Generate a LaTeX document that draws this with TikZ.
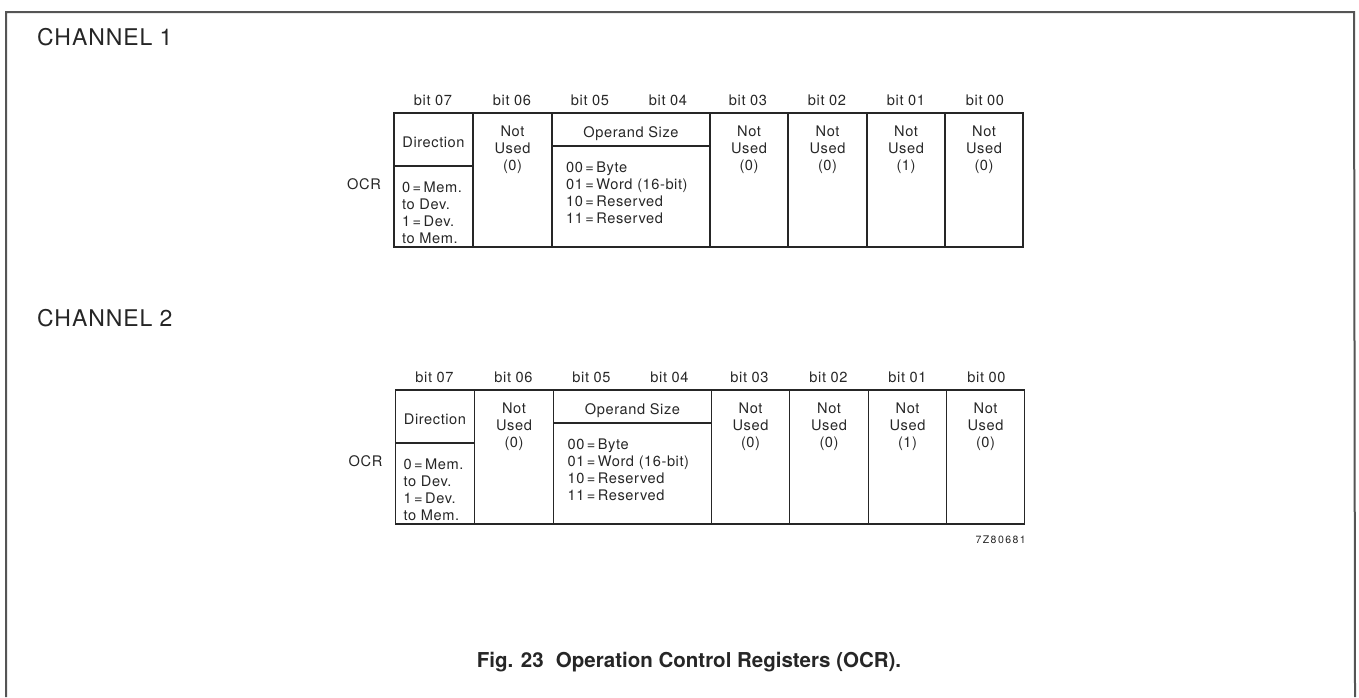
\documentclass[tikz,border=0pt]{standalone}
\usepackage{fontspec}
\setmainfont{TeX Gyre Heros}
\newfontfamily\regfont[LetterSpace=4]{TeX Gyre Heros}
\newfontfamily\headfont[LetterSpace=4]{TeX Gyre Heros}
\newfontfamily\tagfont[LetterSpace=14]{TeX Gyre Heros}
\definecolor{ink}{HTML}{262626}
\definecolor{frame}{HTML}{555555}
\tikzset{
  reg/.style={draw=ink, line width=1.4pt},
  lbl/.style={font=\regfont\fontsize{14.6}{17}\selectfont, text=ink, inner sep=0pt},
  bitlbl/.style={lbl, anchor=base},
  ctext/.style={lbl, align=center, anchor=north},
  ltext/.style={lbl, align=left, anchor=north west},
  head/.style={font=\headfont\fontsize{23}{27}\selectfont, text=ink, inner sep=0pt, anchor=base west},
}
\newcommand\ocrreg[2]{%
\begin{scope}[shift={#1}]
  \foreach \x/\n in {433/07,512/06,590/05,668/04,748/03,827/02,906/01,985/00}
    \node[bitlbl] (#2-l\n) at (\x,105) {bit \n};
  \draw[reg] (394,113) rectangle (1023,247);
  \foreach \x in {473,552,710,788,867,945}
    \draw[reg] (\x,113) -- (\x,247);
  \draw[reg] (394,166) -- (473,166);
  \draw[reg] (552,146) -- (710,146);
  \node[lbl, anchor=base] (#2-dir) at (433.5,147) {Direction};
  \node[lbl, anchor=base] (#2-os) at (631,137) {Operand Size};
  \node[ctext] (#2-b6) at (512.5,126) {Not\\Used\\(0)};
  \node[ctext] (#2-b3) at (749,126) {Not\\Used\\(0)};
  \node[ctext] (#2-b2) at (827.5,126) {Not\\Used\\(0)};
  \node[ctext] (#2-b1) at (906,126) {Not\\Used\\(1)};
  \node[ctext] (#2-b0) at (984,126) {Not\\Used\\(0)};
  \node[ltext] (#2-dirv) at (402,181.5) {0\,=\,Mem.\\to Dev.\\1\,=\,Dev.\\to Mem.};
  \node[ltext] (#2-osv) at (566,162) {00\,=\,Byte\\01\,=\,Word (16-bit)\\10\,=\,Reserved\\11\,=\,Reserved};
  \node[lbl, anchor=base] (#2-ocr) at (364,189) {OCR};
\end{scope}}
\begin{document}
\begin{tikzpicture}[x=1pt,y=-1pt]
  \useasboundingbox (0,0) rectangle (1359,697);
  \draw[frame, line width=2pt] (6,697) -- (6,12) -- (1354,12) -- (1355,697);
  \node[head] (ch1) at (37,45) {CHANNEL 1};
  \node[head] (ch2) at (37,326) {CHANNEL 2};
  \ocrreg{(0,0)}{a}
  \ocrreg{(1.5,277)}{b}
  \node[font=\tagfont\fontsize{10.5}{12}\selectfont, text=ink, inner sep=0pt, anchor=base east] (tag) at (1026,543) {7Z80681};
  \node[font=\bfseries\fontsize{20.5}{24}\selectfont, text=ink, inner sep=0pt, anchor=base] (cap) at (689,667) {Fig. 23\hspace{0.6em}Operation Control Registers (OCR).};
\end{tikzpicture}
\end{document}
